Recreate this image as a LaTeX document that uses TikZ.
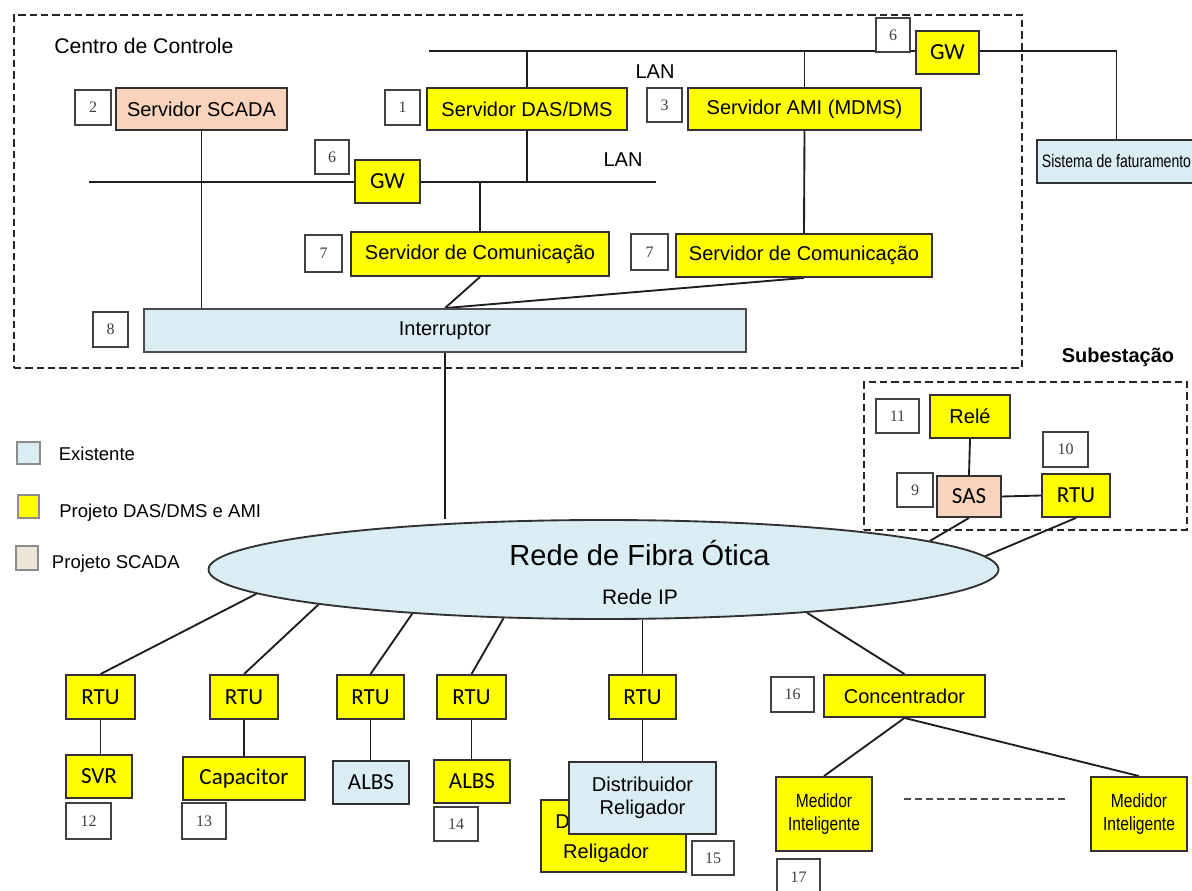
\documentclass[tikz,border=0pt]{standalone}
\usepackage{fontspec}
\setmainfont{Liberation Sans}
\newfontfamily\calfont{Carlito}
\newfontfamily\narrowfont[FakeStretch=0.82]{Liberation Sans}
\newfontfamily\narrowerfont[FakeStretch=0.78]{Liberation Sans}
\newfontfamily\numfont{Liberation Serif}
\usetikzlibrary{shapes.geometric,backgrounds}

\definecolor{boxyellow}{RGB}{255,255,0}
\definecolor{peach}{RGB}{250,211,188}
\definecolor{paleblue}{RGB}{219,237,244}
\definecolor{legbeige}{RGB}{236,230,214}
\definecolor{edgecol}{RGB}{50,50,50}
\definecolor{wirecol}{RGB}{30,30,30}
\definecolor{numedge}{RGB}{65,65,65}

\begin{document}
\begin{tikzpicture}[x=0.75pt, y=-0.75pt,
  % a rectangle given by its two corners (in px), text centred
  rect/.style n args={4}{at={({(#1+#3)/2},{(#2+#4)/2})},
    minimum width={(#3-#1)*0.75pt}, minimum height={(#4-#2)*0.75pt}},
  ybox/.style={draw=edgecol, line width=1.4pt, fill=boxyellow, inner sep=0pt,
    font=\fontsize{15}{18}\selectfont},
  pbox/.style={ybox, fill=peach},
  bbox/.style={ybox, fill=paleblue},
  cbox/.style={ybox, font=\calfont\fontsize{17.25}{20}\selectfont},
  cbbox/.style={cbox, fill=paleblue},
  cpbox/.style={cbox, fill=peach},
  numbox/.style={draw=numedge, line width=1pt, fill=white, inner sep=0pt,
    text=black!75, font=\numfont\fontsize{12}{14}\selectfont},
  wire/.style={draw=wirecol, line width=1.4pt},
  zone/.style={draw=black!85, line width=1.4pt, dash pattern=on 5.5pt off 3pt, inner sep=0pt},
  lbl/.style={inner sep=0pt, font=\fontsize{15}{18}\selectfont},
  legsq/.style={draw=black!45, line width=1pt, inner sep=0pt},
  legtxt/.style={inner sep=0pt, anchor=west, font=\fontsize{13.9}{16}\selectfont},
]
\useasboundingbox (0,0) rectangle (1192,891);
\clip (0,0) rectangle (1192,891);

% ---------- control centre ----------
\node[zone, rect={14}{15}{1022}{368}] (cc) {};
\node[lbl, anchor=west, font=\fontsize{15.9}{19}\selectfont] (cctitle) at (54,46) {Centro de Controle};
\node[lbl] (lanA) at (655,72) {LAN};
\node[lbl] (lanB) at (623,160) {LAN};

\node[numbox, rect={876}{18}{910}{52}] (n6a) {6};
\node[cbox, rect={916}{31}{979}{74}] (gwA) {GW};
\node[numbox, rect={75}{90}{111}{125}] (n2) {2};
\node[pbox, rect={116}{88}{287}{130}] (scada) {Servidor SCADA};
\node[numbox, rect={385}{90}{420}{125}] (n1) {1};
\node[ybox, rect={427}{88}{627}{130}] (dms) {Servidor DAS/DMS};
\node[numbox, rect={647}{88}{682}{122}] (n3) {3};
\node[ybox, rect={688}{88}{921}{130}] (ami) {Servidor AMI (MDMS)};
\node[numbox, rect={315}{140}{349}{174}] (n6b) {6};
\node[cbox, rect={355}{160}{420}{203}] (gwB) {GW};
\node[numbox, rect={305}{235}{342}{272}] (n7a) {7};
\node[ybox, rect={351}{232}{609}{276}] (comm1) {Servidor de Comunicação};
\node[numbox, rect={631}{234}{668}{270}] (n7b) {7};
\node[ybox, rect={676}{234}{932}{277}] (comm2) {Servidor de Comunicação};
\node[numbox, rect={93}{312}{128}{347}] (n8) {8};
\node[bbox, draw=black!70, rect={144}{309}{746}{352}] (intr) {Interruptor};
\node[bbox, rect={1037}{140}{1196}{183}, font=\narrowerfont\fontsize{13.5}{16}\selectfont] (bill) {Sistema de faturamento};

% ---------- substation ----------
\node[lbl, font=\bfseries\fontsize{15}{18}\selectfont] (subtitle) at (1118,357) {Subestação};
\node[zone, rect={864}{382}{1187}{530}] (sub) {};
\node[numbox, rect={876}{399}{919}{433}] (n11) {11};
\node[ybox, rect={930}{395}{1010}{438}] (rele) {Relé};
\node[numbox, rect={1043}{432}{1088}{467}] (n10) {10};
\node[numbox, rect={897}{473}{933}{507}] (n9) {9};
\node[cpbox, rect={937}{476}{1001}{517}] (sas) {SAS};
\node[cbox, rect={1042}{474}{1110}{517}] (rtuS) {RTU};

% ---------- optical network ----------
\node[ellipse, draw=edgecol, line width=1.4pt, fill=paleblue, inner sep=0pt,
  minimum width=592.5pt, minimum height=74.25pt] (net) at (603.5,569.5) {};
\node[lbl, font=\fontsize{21.8}{26}\selectfont] (netname) at (639.5,553) {Rede de Fibra Ótica};
\node[lbl, font=\fontsize{15.75}{19}\selectfont] (netip) at (640,597) {Rede IP};

% ---------- legend ----------
\node[legsq, fill=paleblue, rect={17}{442}{40}{464}] (legE) {};
\node[legtxt] (legEt) at (58.5,454) {Existente};
\node[legsq, fill=boxyellow, rect={18}{495}{39}{518}] (legY) {};
\node[legtxt] (legYt) at (59,513) {Projeto DAS/DMS e AMI};
\node[legsq, fill=legbeige, rect={16}{546}{38}{570}] (legS) {};
\node[legtxt] (legSt) at (51.7,564) {Projeto SCADA};

% ---------- field devices ----------
\node[cbox, rect={66}{675}{135}{719}] (rtu1) {RTU};
\node[cbox, rect={210}{675}{278}{719}] (rtu2) {RTU};
\node[cbox, rect={337}{675}{404}{719}] (rtu3) {RTU};
\node[cbox, rect={437}{675}{506}{719}] (rtu4) {RTU};
\node[cbox, rect={609}{675}{676}{719}] (rtu5) {RTU};
\node[cbox, rect={66}{755}{132}{798}] (svr) {SVR};
\node[numbox, rect={66}{803}{111}{839}] (n12) {12};
\node[cbox, rect={183}{757}{305}{800}] (cap) {Capacitor};
\node[numbox, rect={182}{803}{226}{839}] (n13) {13};
\node[cbbox, rect={333}{761}{409}{804}] (albs1) {ALBS};
\node[cbox, rect={434}{760}{510}{803}] (albs2) {ALBS};
\node[numbox, rect={434}{807}{478}{841}] (n14) {14};
\node[ybox, rect={541}{800}{686}{872}] (recl) {};
\node[lbl, anchor=west] (reclD) at (555,822) {D};
\node[lbl] (reclT) at (606,853) {Religador};
\node[bbox, rect={569}{762}{716}{834}, align=center, font=\fontsize{15}{17.5}\selectfont] (dist) {Distribuidor\\Religador};
\node[numbox, rect={692}{841}{734}{875}] (n15) {15};
\node[numbox, rect={771}{677}{814}{712}] (n16) {16};
\node[ybox, rect={824}{675}{985}{717}] (conc) {Concentrador};
\node[ybox, rect={776}{777}{872}{851}, align=center, font=\narrowfont\fontsize{14.25}{17.5}\selectfont] (med1) {Medidor\\Inteligente};
\node[ybox, rect={1091}{777}{1187}{851}, align=center, font=\narrowfont\fontsize{14.25}{17.5}\selectfont] (med2) {Medidor\\Inteligente};
\node[numbox, rect={777}{859}{820}{896}] (n17) {17};
\coordinate (dashL) at (904,799);
\coordinate (dashR) at (1066,799);

% ---------- connectors (behind the boxes) ----------
\begin{scope}[on background layer]
  \fill[white] (0,0) rectangle (1192,891);
  \coordinate (lanAw) at (429,50.7);
  \coordinate (lanBw) at (89,181.7);
  \coordinate (lanBe) at (656,181.7);
  \draw[wire] (lanAw) -- (lanAw -| gwA.west);
  \draw[wire] (gwA.east |- lanAw) -| (bill.north);
  \draw[wire] (dms.north |- lanAw) -- (dms.north);
  \draw[wire] (ami.north |- lanAw) -- (ami.north);
  \draw[wire] (dms.south) -- (dms.south |- lanBw);
  \draw[wire] (ami.south) -- (comm2.north);
  \draw[wire] (lanBw) -- (lanBe);
  \draw[wire] (scada.south) -- (scada.south |- intr.north);
  \draw[wire] (comm1.north |- lanBw) -- (comm1.north);
  \draw[wire] (comm1.south) -- (intr.north);
  \draw[wire] (comm2.south) -- (intr.north);
  \draw[wire] (intr.south) -- (intr.south |- net.north);
  \draw[wire] (rele.south) -- (sas.north);
  \draw[wire] (sas.east) -- (rtuS.west);
  \draw[wire] (sas.south) -- (net.5);
  \draw[wire] (rtuS.south) -- (net.2);
  \draw[wire] (net.184) -- (rtu1.north);
  \draw[wire] (net.187) -- (rtu2.north);
  \draw[wire] (net.193) -- (rtu3.north);
  \draw[wire] (net.206) -- (rtu4.north);
  \draw[wire] (net.south -| rtu5.north) -- (rtu5.north);
  \draw[wire] (net.348) -- (conc.north);
  \draw[wire] (rtu1.south) -- (rtu1.south |- svr.north);
  \draw[wire] (rtu2.south) -- (rtu2.south |- cap.north);
  \draw[wire] (rtu3.south) -- (rtu3.south |- albs1.north);
  \draw[wire] (rtu4.south) -- (rtu4.south |- albs2.north);
  \draw[wire] (rtu5.south) -- (dist.north);
  \draw[wire] (conc.south) -- (med1.north);
  \draw[wire] (conc.south) -- (med2.north);
  \draw[wire, draw=black!70, dash pattern=on 5.25pt off 3pt] (dashL) -- (dashR);
\end{scope}
\end{tikzpicture}
\end{document}
